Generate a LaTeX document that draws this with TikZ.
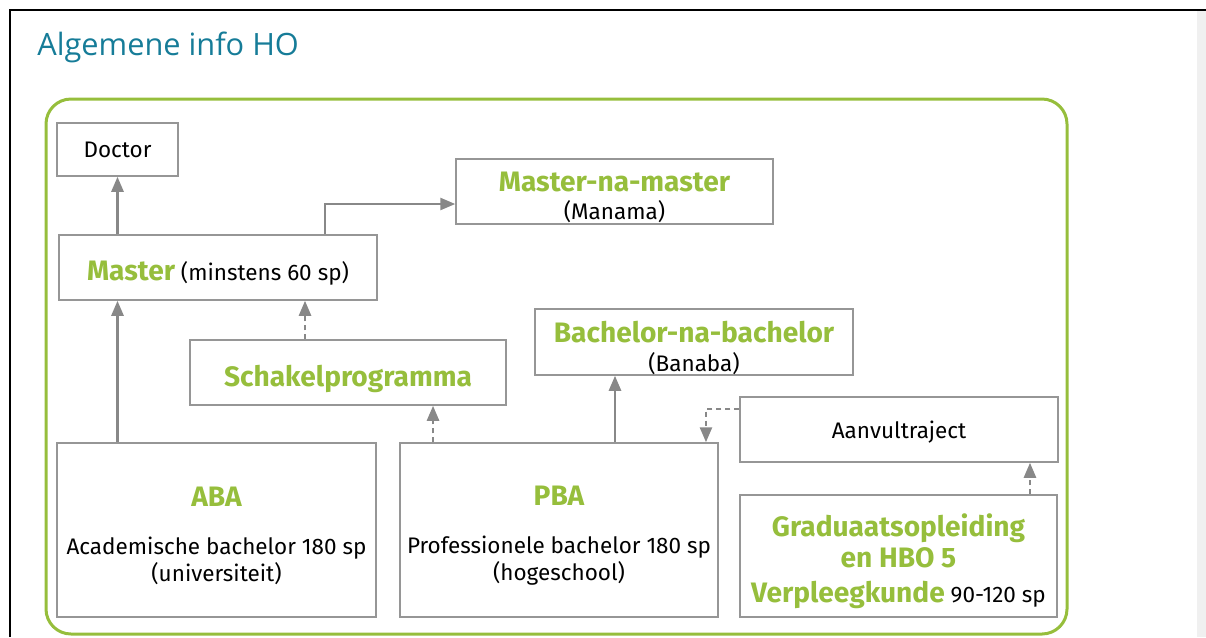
\documentclass[tikz,border=0pt]{standalone}
\usepackage{fontspec}
\setmainfont{Fira Sans}
\newfontfamily\titlefont{Open Sans}
\usetikzlibrary{arrows.meta}

\definecolor{hogreen}{RGB}{150,190,60}
\definecolor{hoteal}{RGB}{22,124,152}
\definecolor{hogray}{RGB}{136,136,136}
\definecolor{boxgray}{RGB}{150,150,150}
\newcommand{\hd}[1]{{\fontsize{16}{19}\selectfont\bfseries\color{hogreen}#1}}
% extra room above the first line, pushes the text down in its box
\newcommand{\lowr}[2]{\raisebox{0pt}[\dimexpr\height+#1\relax][\depth]{#2}}

\begin{document}
\begin{tikzpicture}[x=0.02cm,y=-0.02cm,
	box/.style={draw=boxgray,line width=0.03cm,fill=white,align=center,inner sep=0pt,font=\fontsize{12.8}{15.5}\selectfont},
	arr/.style={-{Triangle[length=0.3cm,width=0.24cm]},draw=hogray,line width=0.05cm},
	dsh/.style={arr,dash pattern=on 0.1cm off 0.08cm}]
	\useasboundingbox (0,0) rectangle (1206,637);
	
	% page frame
	\fill[black!6] (1197,11) rectangle (1206,637);
	\draw[line width=0.04cm] (10,637) -- (10,10) -- (1206,10);
	\node[anchor=base west,inner sep=0pt,text=hoteal,font=\titlefont\fontsize{17.5}{20}\selectfont] (title) at (37,55) {Algemene info HO};
	\draw[hogreen,line width=0.06cm,rounded corners=0.5cm] (46,99) rectangle (1067,634);
	
	% boxes
	\node[box,minimum width=2.42cm,minimum height=1.06cm] (doctor) at (117.5,149.5) {Doctor};
	\node[box,minimum width=6.36cm,minimum height=1.30cm] (master) at (218,267.5) {\lowr{0.24cm}{\hd{Master} (minstens 60 sp)}};
	\node[box,minimum width=6.34cm,minimum height=1.30cm] (manama) at (614.5,191.5) {\lowr{0.24cm}{\hd{Master-na-master}}\\[0.7pt](Manama)};
	\node[box,minimum width=6.32cm,minimum height=1.30cm] (schakel) at (348,372.5) {\lowr{0.24cm}{\hd{Schakelprogramma}}};
	\node[box,minimum width=6.36cm,minimum height=1.32cm] (banaba) at (694,342) {\lowr{0.24cm}{\hd{Bachelor-na-bachelor}}\\[0.7pt](Banaba)};
	\node[box,minimum width=6.36cm,minimum height=1.30cm] (aanvul) at (899,429.5) {\lowr{0.12cm}{Aanvultraject}};
	\node[box,minimum width=6.38cm,minimum height=3.48cm] (aba) at (216.5,530) {\lowr{0.24cm}{\hd{ABA}}\\[11.7pt]Academische bachelor 180 sp\\(universiteit)};
	\node[box,minimum width=6.36cm,minimum height=3.48cm] (pba) at (559,530) {\lowr{0.24cm}{\hd{PBA}}\\[11.7pt]Professionele bachelor 180 sp\\(hogeschool)};
	\node[box,minimum width=6.34cm,minimum height=2.44cm] (grad) at (898.5,556) {\lowr{0.2cm}{\hd{Graduaatsopleiding}}\\[2.1pt]\hd{en HBO 5}\\[4.4pt]\hd{Verpleegkunde} 90-120 sp};
	
	% connectors
	\draw[arr] (doctor.south |- master.north) -- (doctor.south);
	\draw[arr] ([xshift=2.14cm]master.north) |- ([yshift=-0.25cm]manama.west);
	\draw[arr] (doctor.south |- aba.north) -- (doctor.south |- master.south);
	\draw[dsh] ([xshift=-0.86cm]schakel.north) -- ([xshift=-0.86cm]schakel.north |- master.south);
	\draw[dsh] ([xshift=-2.52cm]pba.north) -- ([xshift=-2.52cm]pba.north |- schakel.south);
	\draw[arr] ([xshift=1.12cm]pba.north) -- ([xshift=1.12cm]pba.north |- banaba.south);
	\draw[dsh] ([yshift=0.41cm]aanvul.west) -| ([xshift=2.94cm]pba.north);
	\draw[dsh] ([xshift=2.63cm]grad.north) -- ([xshift=2.63cm]grad.north |- aanvul.south);
\end{tikzpicture}
\end{document}
